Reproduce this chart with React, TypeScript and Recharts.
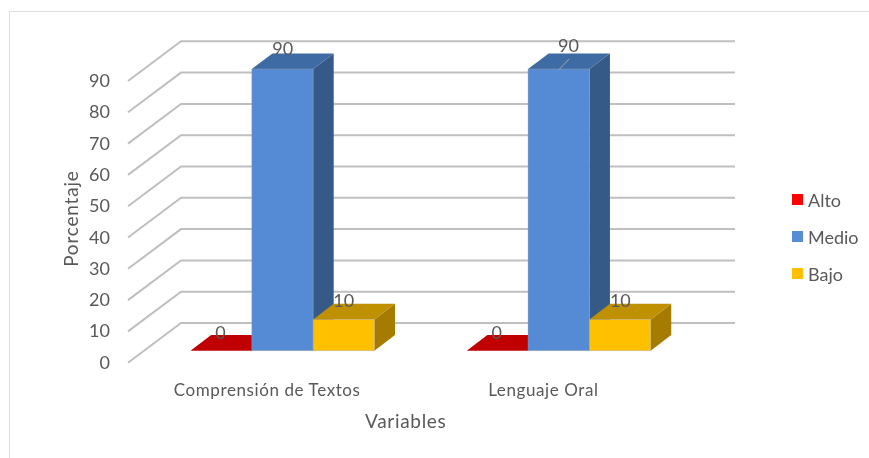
import { Bar, BarChart, CartesianGrid, LabelList, Legend, XAxis, YAxis } from 'recharts';

const categories = ['Comprensión de Textos', 'Lenguaje Oral'];
const alto = [0, 0];
const medio = [90, 90];
const bajo = [10, 10];
const valueTicks = [0, 10, 20, 30, 40, 50, 60, 70, 80, 90];

const data = categories.map((name, i) => ({ name, alto: alto[i], medio: medio[i], bajo: bajo[i] }));

// fake 3D: how far the bars' depth runs back, and where the walls sit against the bar plane
const DEPTH_X = 20.6;
const DEPTH_Y = 15.6;
const FLOOR_FRONT_X = 128;
const FLOOR_BACK_X = 181;
const WALL_END_X = 735;
const FRONT_DROP = 12;
const BACK_RISE = 27.7;

const FONT = 'Lato, sans-serif';
const TEXT = '#595959';

function makeBar(front, top, side) {
  return function Bar3D({ x, y, width, height }) {
    const right = x + width;
    const bottom = y + height;
    return (
      <g>
        {height > 0 && (
          <path
            d={`M${right},${y}L${right + DEPTH_X},${y - DEPTH_Y}L${right + DEPTH_X},${bottom - DEPTH_Y}L${right},${bottom}Z`}
            fill={side}
          />
        )}
        <path
          d={`M${x},${y}L${x + DEPTH_X},${y - DEPTH_Y}L${right + DEPTH_X},${y - DEPTH_Y}L${right},${y}Z`}
          fill={top}
        />
        {height > 0 && (
          <rect x={x} y={y} width={width} height={height} fill={front} stroke="#a6a6a6" strokeOpacity={0.5} strokeWidth={0.8} />
        )}
      </g>
    );
  };
}

function makeLabel(nudges) {
  return function BarValue({ x, y, value, index }) {
    const [dx, dy, leader] = nudges[index];
    return (
      <g>
        {leader && <line x1={x + 31} y1={y + 0.5} x2={x + 41} y2={y - 10} stroke="#a6a6a6" strokeWidth={1} />}
        <text x={x + dx} y={y + dy} textAnchor="middle" dominantBaseline="central" fontFamily={FONT} fontSize={18} fill={TEXT}>
          {value}
        </text>
      </g>
    );
  };
}

function GridLine({ y1 }) {
  return (
    <polyline
      points={`${FLOOR_FRONT_X},${y1 + FRONT_DROP} ${FLOOR_BACK_X},${y1 - BACK_RISE} ${WALL_END_X},${y1 - BACK_RISE}`}
      fill="none"
      stroke="#bfbfbf"
      strokeWidth={2}
    />
  );
}

function ValueTick({ y, payload }) {
  return (
    <text x={110} y={y + FRONT_DROP - 1} textAnchor="end" dominantBaseline="central" fontFamily={FONT} fontSize={18} fill={TEXT}>
      {payload.value}
    </text>
  );
}

function CategoryTick({ x, payload }) {
  return (
    <text x={x - 15.5} y={389} textAnchor="middle" dominantBaseline="central" fontFamily={FONT} fontSize={17} letterSpacing={0.6} fill={TEXT}>
      {payload.value}
    </text>
  );
}

function LegendList({ payload }) {
  return (
    <div>
      {(payload || []).map((item) => (
        <div key={item.value} style={{ display: 'flex', alignItems: 'center', height: 37, fontFamily: FONT, fontSize: 18, color: TEXT }}>
          <span style={{ width: 11, height: 11, background: item.color, marginRight: 5 }} />
          {item.value}
        </div>
      ))}
    </div>
  );
}

export default function App() {
  return (
    <div style={{ position: 'absolute', left: 0, top: 0, width: 869, height: 458, overflow: 'hidden', background: '#fff', filter: 'blur(0.45px)' }}>
      <div style={{ position: 'absolute', left: 9, top: 11, width: 900, height: 500, border: '1.5px solid #dedede' }} />
      <BarChart
        width={869}
        height={458}
        data={data}
        barGap={0}
        barSize={61.3}
        margin={{ top: 69, right: 172, bottom: 27.3, left: 44.5 }}
        style={{ position: 'absolute', left: 0, top: 0 }}
      >
        <CartesianGrid vertical={false} horizontal={GridLine} />
        <XAxis
          dataKey="name"
          axisLine={false}
          tickLine={false}
          tick={CategoryTick}
          label={{ value: 'Variables', position: 'insideBottom', dx: -15, dy: 2, fontFamily: FONT, fontSize: 19, letterSpacing: 0.7, fill: TEXT }}
          height={80}
        />
        <YAxis
          domain={[0, 90]}
          ticks={valueTicks}
          interval={0}
          axisLine={false}
          tickLine={false}
          tick={ValueTick}
          width={100}
          label={{ value: 'Porcentaje', angle: -90, position: 'insideLeft', dx: 22, dy: 57, fontFamily: FONT, fontSize: 19, letterSpacing: 0.8, fill: TEXT }}
        />
        <Legend
          layout="vertical"
          align="center"
          verticalAlign="middle"
          itemSorter={null}
          content={LegendList}
          wrapperStyle={{ left: 792, top: 181, width: 77 }}
        />
        <Bar dataKey="alto" name="Alto" fill="#ff0000" isAnimationActive={false} shape={makeBar('#ff0000', '#c00000', '#a00000')}>
          <LabelList dataKey="alto" content={makeLabel([[30, -19], [30, -19]])} />
        </Bar>
        <Bar dataKey="medio" name="Medio" fill="#558ed5" isAnimationActive={false} shape={makeBar('#558ad5', '#3e6ba3', '#355a88')}>
          <LabelList dataKey="medio" content={makeLabel([[31, -21], [40.5, -24, true]])} />
        </Bar>
        <Bar dataKey="bajo" name="Bajo" fill="#ffc000" isAnimationActive={false} shape={makeBar('#ffc000', '#bf9000', '#a67c00')}>
          <LabelList dataKey="bajo" content={makeLabel([[30.7, -19.5], [31, -19.5]])} />
        </Bar>
      </BarChart>
    </div>
  );
}
